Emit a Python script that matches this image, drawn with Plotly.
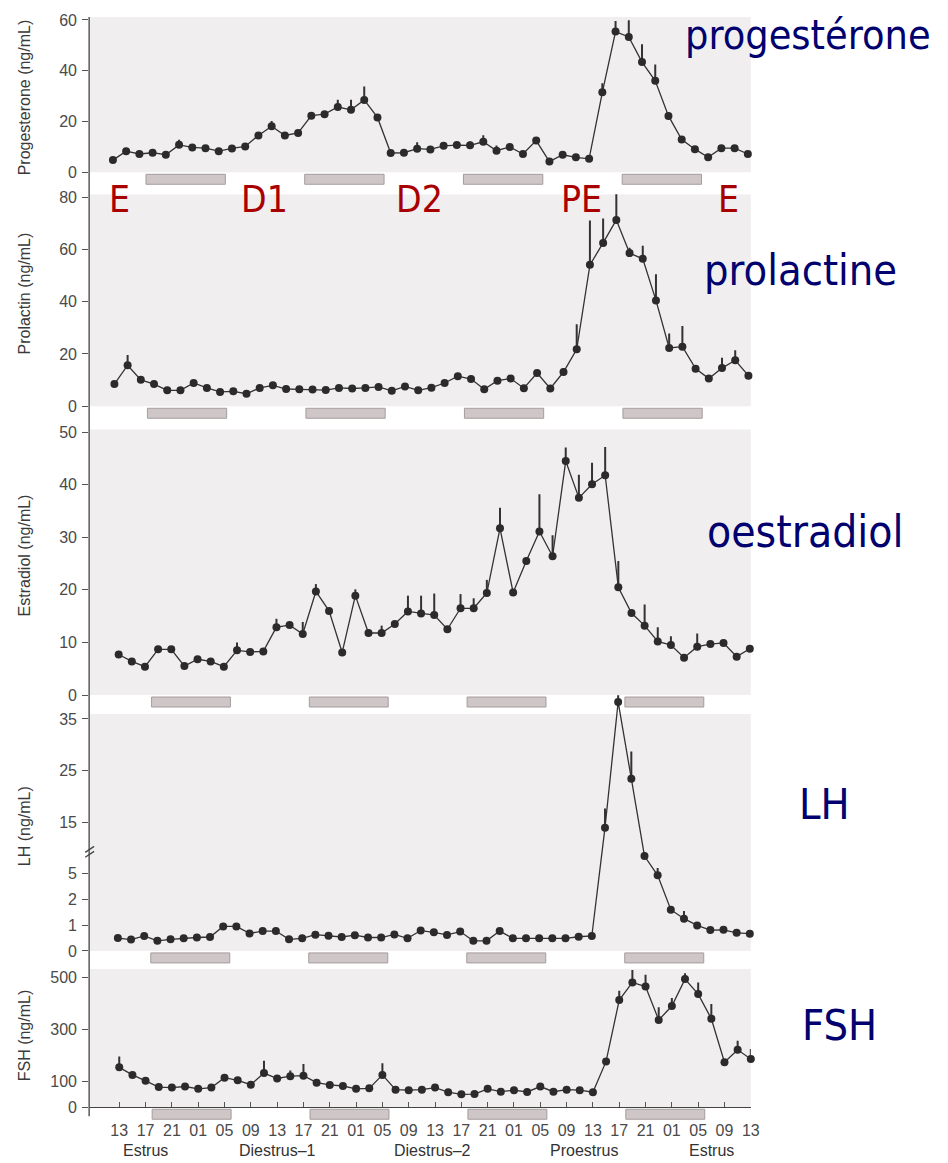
import plotly.graph_objects as go

# ---------------- data ----------------
hours = list(range(0, 97, 2))  # sampling times, hours after 13:00 on estrus day
tick_hours = list(range(0, 97, 4))
tick_labels = ["13", "17", "21", "01", "05", "09", "13", "17", "21", "01", "05", "09",
               "13", "17", "21", "01", "05", "09", "13", "17", "21", "01", "05", "09", "13"]
phase_labels = ["Estrus", "Diestrus\u20131", "Diestrus\u20132", "Proestrus", "Estrus"]
phase_hours = [4, 24, 47.6, 70.7, 90]
dark_start = [5, 29, 53, 77]
dark_end = [17, 41, 65, 89]

progesterone = [4.8, 8.3, 7.2, 7.7, 6.9, 10.8, 9.8, 9.5, 8.3, 9.4,
                10.2, 14.5, 18.1, 14.5, 15.5, 22.3, 22.9, 25.7, 24.6, 28.5,
                21.6, 7.6, 7.7, 9.3, 9.0, 10.4, 10.7, 10.6, 12.0, 8.5,
                10.0, 7.2, 12.5, 4.2, 6.9, 5.9, 5.3, 31.5, 55.4, 53.3,
                43.4, 36.0, 22.2, 12.9, 9.1, 5.9, 9.5, 9.5, 7.2]
progesterone_err = [0.5, 0.8, 0.6, 1.4, 0.5, 2.0, 1.0, 1.0, 0.5, 0.8,
                    0.6, 0.8, 2.1, 0.6, 0.8, 1.2, 1.0, 2.9, 4.0, 5.3,
                    1.2, 0.5, 0.6, 2.5, 0.8, 0.8, 0.6, 1.5, 2.6, 2.0,
                    0.8, 0.5, 0.8, 0.5, 0.6, 0.5, 0.5, 3.6, 4.2, 6.6,
                    7.0, 6.4, 1.0, 0.8, 0.6, 0.5, 0.8, 0.8, 0.6]

prolactin = [8.5, 15.7, 10.1, 8.5, 6.1, 6.1, 8.9, 7.0, 5.5, 5.7,
             4.8, 7.0, 8.0, 6.6, 6.5, 6.4, 6.2, 7.0, 6.8, 7.0,
             7.4, 5.9, 7.6, 6.1, 7.1, 8.9, 11.5, 10.4, 6.5, 9.8,
             10.6, 6.9, 12.7, 6.8, 13.1, 21.8, 54.1, 62.5, 71.3, 58.6,
             56.4, 40.5, 22.3, 22.8, 14.4, 10.6, 14.6, 17.6, 11.7]
prolactin_err = [0.8, 3.9, 0.8, 0.6, 0.5, 0.5, 0.8, 0.6, 0.5, 0.5,
                 0.5, 0.6, 0.8, 0.5, 0.5, 0.5, 0.5, 0.6, 0.5, 0.6,
                 0.6, 0.5, 0.6, 0.5, 0.6, 0.8, 1.0, 1.0, 0.5, 1.0,
                 1.0, 0.6, 1.2, 0.6, 1.5, 9.6, 17.0, 9.3, 11.0, 2.0,
                 5.0, 10.0, 5.5, 7.9, 1.0, 0.8, 4.0, 3.8, 1.0]

estradiol = [7.7, 6.4, 5.4, 8.7, 8.7, 5.5, 6.8, 6.4, 5.4, 8.5,
             8.2, 8.3, 12.9, 13.3, 11.6, 19.7, 16.0, 8.1, 18.9, 11.8,
             11.8, 13.5, 15.9, 15.5, 15.2, 12.5, 16.5, 16.5, 19.4, 31.7,
             19.5, 25.5, 31.1, 26.4, 44.5, 37.5, 40.1, 41.8, 20.5, 15.6,
             13.2, 10.2, 9.5, 7.1, 9.2, 9.7, 9.9, 7.3, 8.8]
estradiol_err = [0.4, 0.3, 0.3, 0.4, 0.4, 0.3, 0.3, 0.3, 0.3, 1.5,
                 0.4, 0.4, 1.6, 0.5, 2.3, 1.4, 0.5, 0.4, 1.2, 0.4,
                 1.4, 0.5, 3.0, 3.4, 4.1, 0.5, 2.7, 1.9, 2.5, 3.9,
                 0.5, 0.6, 7.1, 4.0, 2.6, 4.4, 4.1, 5.4, 5.0, 0.6,
                 4.0, 2.7, 1.7, 0.4, 2.5, 0.4, 0.4, 0.4, 0.5]

lh = [0.50, 0.44, 0.58, 0.39, 0.45, 0.49, 0.52, 0.54, 0.95, 0.95,
      0.68, 0.77, 0.77, 0.45, 0.49, 0.63, 0.59, 0.54, 0.61, 0.52,
      0.52, 0.64, 0.49, 0.79, 0.72, 0.62, 0.75, 0.39, 0.39, 0.77,
      0.49, 0.49, 0.49, 0.49, 0.49, 0.55, 0.58, 13.9, 38.3, 23.4,
      8.4, 4.8, 1.6, 1.25, 0.99, 0.81, 0.82, 0.70, 0.67]
lh_err = [0.03, 0.03, 0.03, 0.03, 0.03, 0.03, 0.03, 0.03, 0.03, 0.03,
          0.03, 0.03, 0.03, 0.03, 0.03, 0.03, 0.03, 0.03, 0.03, 0.03,
          0.03, 0.03, 0.03, 0.03, 0.03, 0.03, 0.03, 0.03, 0.03, 0.03,
          0.03, 0.03, 0.03, 0.03, 0.03, 0.03, 0.03, 3.7, 1.3, 5.3,
          0.8, 1.3, 0.05, 0.3, 0.03, 0.03, 0.03, 0.03, 0.03]
lh_ticks = [0, 1, 2, 5, 15, 25, 35]

fsh = [154, 125, 102, 78, 76, 80, 71, 76, 114, 104,
       87, 132, 111, 120, 122, 95, 86, 82, 71, 73,
       125, 68, 66, 68, 76, 58, 50, 51, 71, 60,
       66, 59, 80, 60, 68, 66, 58, 177, 414, 482,
       466, 337, 391, 495, 437, 342, 174, 222, 186]
fsh_err = [42, 5, 5, 5, 5, 5, 5, 5, 5, 5,
           5, 48, 5, 22, 45, 5, 5, 5, 5, 5,
           45, 5, 5, 5, 5, 5, 5, 5, 5, 5,
           5, 5, 5, 5, 5, 5, 5, 5, 36, 48,
           46, 49, 31, 23, 45, 57, 5, 35, 39]


# LH axis is broken: 0,1,2,5 evenly spaced, then 15,25,35 linear
def lh_t(v):
    if v <= 2:
        return v
    if v <= 5:
        return 2 + (v - 2) / 3.0
    return 5 + (v - 15) / 5.0


lh_plot = [lh_t(v) for v in lh]
lh_plot_err = [lh_t(v + e) - lh_t(v) for v, e in zip(lh, lh_err)]

# ---------------- layout geometry (pixels) ----------------
W, H = 948, 1163
AX_L, AX_R = 90, 758


def py(p):
    return 1 - p / H


def pxf(p):
    return p / W


panels = [
    dict(y=progesterone, e=progesterone_err, vtop=60, p0=168, ptop=15, dt=12, db=182, bgtop=12,
         x0=114, x96=755, tv=[0, 20, 40, 60], tt=None, title="Progesterone (ng/mL)", tc=93),
    dict(y=prolactin, e=prolactin_err, vtop=80, p0=403, ptop=193, dt=190, db=417, bgtop=190,
         x0=115.5, x96=755.6, tv=[0, 20, 40, 60, 80], tt=None, title="Prolactin (ng/mL)", tc=290),
    dict(y=estradiol, e=estradiol_err, vtop=50, p0=693, ptop=429, dt=426, db=707, bgtop=426,
         x0=119.8, x96=757, tv=[0, 10, 20, 30, 40, 50], tt=None, title="Estradiol (ng/mL)", tc=553),
    dict(y=lh_plot, e=lh_plot_err, vtop=9, p0=950, ptop=717, dt=686, db=964, bgtop=712,
         x0=119, x96=757, tv=[lh_t(v) for v in lh_ticks], tt=[str(v) for v in lh_ticks],
         title="LH (ng/mL)", tc=825),
    dict(y=fsh, e=fsh_err, vtop=500, p0=1107, ptop=977, dt=968, db=1121, bgtop=968,
         x0=120.4, x96=758, tv=[0, 100, 300, 500], tt=None, title="FSH (ng/mL)", tc=1035),
]

fig = go.Figure()
shapes = []
annotations = []
layout = {}

TICKFONT = dict(family="Liberation Sans Narrow, Arial Narrow, Liberation Sans, Arial", size=16, color="#4a4a4a")

for i, P in enumerate(panels):
    n = i + 1
    xa = "x" if n == 1 else f"x{n}"
    ya = "y" if n == 1 else f"y{n}"
    xkey = "xaxis" if n == 1 else f"xaxis{n}"
    ykey = "yaxis" if n == 1 else f"yaxis{n}"
    scale = (P["p0"] - P["ptop"]) / P["vtop"]
    ylo = -(P["db"] - P["p0"]) / scale
    yhi = (P["p0"] - P["dt"]) / scale
    bg_hi = (P["p0"] - P["bgtop"]) / scale
    hs = (P["x96"] - P["x0"]) / 96.0
    xlo = (AX_L - P["x0"]) / hs
    xhi = (AX_R - P["x0"]) / hs

    fig.add_trace(go.Scatter(
        x=hours, y=P["y"], mode="lines+markers", xaxis=xa, yaxis=ya,
        line=dict(color="#333333", width=1.3),
        marker=dict(size=8, color="#2b2b2b", line=dict(width=0)),
        error_y=dict(type="data", symmetric=False, array=P["e"], arrayminus=[0] * len(P["e"]),
                     thickness=2, width=0, color="#333333"),
        cliponaxis=False, showlegend=False, hoverinfo="x+y"))

    xa_cfg = dict(domain=[pxf(AX_L), pxf(AX_R)], range=[xlo, xhi], showgrid=False, zeroline=False,
                  fixedrange=True)
    if n == 5:
        xa_cfg.update(anchor="free", position=py(1107), showline=True, linecolor="#444444",
                      linewidth=1.2, ticks="inside", ticklen=5, tickcolor="#555555",
                      tickvals=tick_hours, ticktext=tick_labels, tickfont=TICKFONT,
                      ticklabelstandoff=8)
    else:
        xa_cfg.update(anchor=ya, visible=False)
    layout[xkey] = xa_cfg

    ya_cfg = dict(domain=[py(P["db"]), py(P["dt"])], range=[ylo, yhi], anchor=xa,
                  showgrid=False, zeroline=False, showline=False, ticks="outside", ticklen=6,
                  tickcolor="#555555", tickwidth=1.2, tickvals=P["tv"], tickfont=TICKFONT,
                  ticklabelstandoff=2, fixedrange=True)
    if P["tt"] is not None:
        ya_cfg["ticktext"] = P["tt"]
    layout[ykey] = ya_cfg

    # grey plotting background above zero
    shapes.append(dict(type="rect", xref=f"{xa} domain", yref=ya, x0=0, x1=1, y0=0, y1=bg_hi,
                       fillcolor="#f0eeee", line=dict(width=0), layer="below"))
    # dark-phase bars just below the zero line
    for s, e in zip(dark_start, dark_end):
        shapes.append(dict(type="rect", xref=xa, yref=ya, ysizemode="pixel", yanchor=0,
                           x0=s, x1=e, y0=-12, y1=-2, fillcolor="#cec6c7",
                           line=dict(color="#a59c9d", width=1), layer="above"))

    annotations.append(dict(text=P["title"], textangle=-90, xref="paper", yref="paper",
                            x=pxf(25), y=py(P["tc"]), xanchor="center", yanchor="middle",
                            showarrow=False,
                            font=dict(family="Liberation Sans, Arial", size=16, color="#3a3a3a")))

# continuous y axis line
shapes.append(dict(type="line", xref="paper", yref="paper", x0=pxf(AX_L), x1=pxf(AX_L),
                   y0=py(12), y1=py(1116), line=dict(color="#5a5a5a", width=1.5)))
# axis break marks on LH axis
for dy in (0, 5):
    shapes.append(dict(type="line", xref="paper", yref="paper", x0=pxf(86), x1=pxf(95),
                       y0=py(856 - dy), y1=py(850 - dy), line=dict(color="#444444", width=1.3)))

# phase labels under the time axis
for lab, h in zip(phase_labels, phase_hours):
    annotations.append(dict(text=lab, xref="x5", yref="paper", x=h, y=py(1150),
                            xanchor="center", yanchor="middle", showarrow=False,
                            font=dict(family="Liberation Sans, Arial", size=16, color="#333333")))

# hormone names (navy)
for txt, cx, cy, fs in [("progestérone", 816, 30, 41), ("prolactine", 808, 266, 43),
                        ("oestradiol", 813, 529, 44), ("LH", 832, 802, 43), ("FSH", 848, 1024, 43)]:
    annotations.append(dict(text=txt, xref="paper", yref="paper", x=pxf(cx), y=py(cy),
                            showarrow=False, xanchor="center", yanchor="middle",
                            font=dict(family="DejaVu Sans Condensed, DejaVu Sans", size=fs,
                                      color="#00006e")))

# cycle phase letters (dark red)
RED = dict(family="DejaVu Sans Condensed, DejaVu Sans", size=37, color="#a80000")
for txt, cx in [("E", 121), ("D1", 267), ("D2", 424), ("PE", 587), ("E", 735)]:
    annotations.append(dict(text=txt, xref="paper", yref="paper", x=pxf(cx), y=py(195),
                            showarrow=False, font=RED, xanchor="center", yanchor="middle"))

fig.update_layout(width=W, height=H, margin=dict(l=0, r=0, t=0, b=0),
                  paper_bgcolor="white", plot_bgcolor="rgba(0,0,0,0)",
                  shapes=shapes, annotations=annotations, showlegend=False, **layout)

fig.write_html("out.html")
